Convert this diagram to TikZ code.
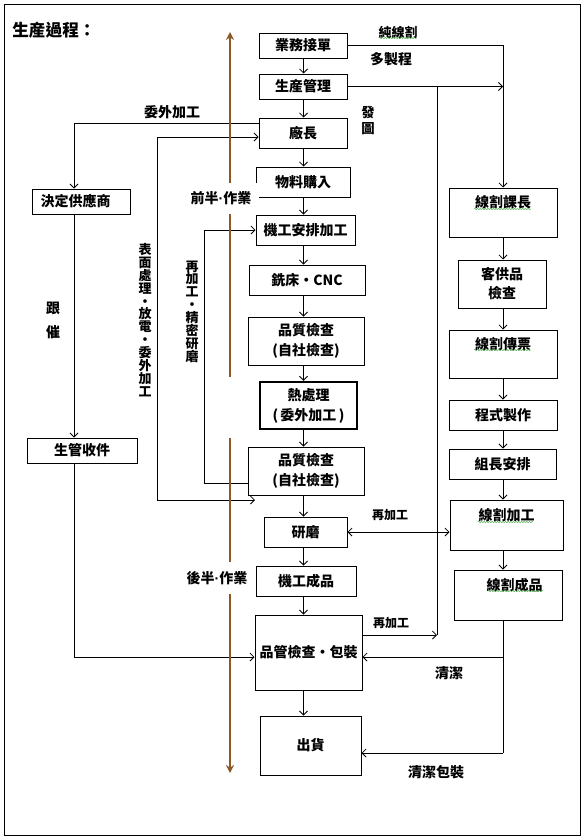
\documentclass[tikz,border=0pt]{standalone}
\usepackage{fontspec}
\setmainfont{Noto Sans CJK TC}
\newfontfamily\latinfont{Liberation Sans}
\newcommand{\ndot}{{\latinfont\bfseries ·}}
\usetikzlibrary{arrows.meta,decorations.pathmorphing}
\definecolor{brn}{RGB}{140,88,40}
\definecolor{spell}{RGB}{70,170,70}
\begin{document}
\begin{tikzpicture}[x=0.75pt,y=-0.75pt,
  box/.style={draw, line width=0.75pt, inner sep=0pt, align=center, font=\bfseries\fontsize{10.5pt}{15pt}\selectfont},
  topbox/.style={box, font=\bfseries\fontsize{10.5pt}{16pt}\selectfont},
  arr/.style={line width=0.6pt, -{Straight Barb[length=3pt,width=6pt]}},
  darr/.style={line width=0.6pt, {Straight Barb[length=3pt,width=6pt]}-{Straight Barb[length=3pt,width=6pt]}},
  ln/.style={line width=0.6pt},
  lbl/.style={font=\bfseries\fontsize{10.5pt}{13pt}\selectfont, inner sep=0pt},
  small/.style={lbl, font=\bfseries\fontsize{9pt}{11pt}\selectfont},
  vert/.style={lbl, align=center, font=\bfseries\fontsize{9.75pt}{9.65pt}\selectfont},
  phase/.style={lbl, fill=white, inner xsep=6pt, minimum height=23pt},
  brownline/.style={draw=brn, line width=1.6pt},
  brownarr/.style={brownline, -{Stealth[length=6pt,width=6pt]}},
  wavy/.style={draw=spell, line width=0.35pt, decorate, decoration={snake, amplitude=0.45pt, segment length=2pt}}
]
\useasboundingbox (0,0) rectangle (584,839);
\draw[line width=0.75pt] (4,4) rectangle (580,835);

% helper coordinates
\coordinate (xm) at (303.5,0);
\coordinate (xR) at (503,0);
\coordinate (xJ) at (437,0);
\coordinate (xL) at (74,0);
\coordinate (x157) at (157,0);
\coordinate (x204) at (204,0);
\coordinate (y123) at (0,123);
\coordinate (y137) at (0,137);
\coordinate (y483) at (0,483);
\coordinate (yRe) at (0,635);
\coordinate (yC1) at (0,657);
\coordinate (yC2) at (0,753);
\coordinate (e500) at (255,500);
\coordinate (bTop) at (230,32);
\coordinate (bMid1) at (230,377);
\coordinate (bMid2) at (230,438);
\coordinate (bBot) at (230,773);

% title
\node[lbl, anchor=west, font=\bfseries\fontsize{12.5pt}{14pt}\selectfont] (title) at (12,30) {生産過程：};

% main column
\node[box, minimum width=66pt, minimum height=18.75pt] (ywjd) at (303,45.5) {業務接單};
\node[box, minimum width=66pt, minimum height=18.75pt] (scgl) at (303,86.5) {生産管理};
\node[box, minimum width=66pt, minimum height=22.5pt] (cz) at (303,133) {廠長};
\node[box, minimum width=70.5pt, minimum height=22.5pt] (wlgr) at (303,182) {物料購入};
\node[box, minimum width=74.25pt, minimum height=22.5pt] (jgap) at (305.5,230) {機工安排加工};
\node[box, minimum width=87pt, minimum height=22.5pt] (xc) at (307,280) {銑床・CNC};
\node[box, minimum width=87pt, minimum height=36pt] (pz1) at (306,341) {品質檢查\\(自社檢查)};
\node[box, line width=1.8pt, minimum width=72.75pt, minimum height=35.25pt] (rcl) at (308.5,405.5) {熱處理\\(\,委外加工\,)};
\node[box, minimum width=87pt, minimum height=36pt] (pz2) at (306,471) {品質檢查\\(自社檢查)};
\node[box, minimum width=62.25pt, minimum height=22.5pt] (ym) at (305.5,532) {研磨};
\node[box, minimum width=75pt, minimum height=22.5pt] (jgcp) at (306,581) {機工成品};
\node[box, minimum width=80.25pt, minimum height=56.25pt] (pg) at (308.5,652.5) {品管檢查・包裝};
\node[box, minimum width=75.75pt, minimum height=44.25pt] (ch) at (310.5,745.5) {出貨};

% right column
\node[topbox, minimum width=81pt, minimum height=36.75pt] (xgkz) at (503,212.5) {線割課長\\\mbox{}};
\node[box, minimum width=66pt, minimum height=36pt, font=\bfseries\fontsize{10.5pt}{14.25pt}\selectfont] (kgp) at (502,284) {客供品\\檢查};
\node[topbox, minimum width=81pt, minimum height=36pt] (xgcp0) at (503,354) {線割傳票\\\mbox{}};
\node[box, minimum width=81pt, minimum height=22.5pt] (cszz) at (503,415) {程式製作};
\node[box, minimum width=80.25pt, minimum height=22.5pt] (zzap) at (502.5,464) {組長安排};
\node[topbox, minimum width=84.75pt, minimum height=37.5pt] (xgjg) at (506.5,525) {線割加工\\\mbox{}};
\node[topbox, minimum width=81pt, minimum height=37.5pt] (xgcp) at (508,595) {\hspace*{10pt}線割成品\\\mbox{}};

% left column
\node[box, minimum width=73.5pt, minimum height=18.75pt] (jdgy) at (81,201.5) {決定供應商\hspace*{8pt}};
\node[box, minimum width=82.5pt, minimum height=18.75pt] (sgsj) at (82,450.5) {生管收件};

% main column arrows
\draw[arr] (ywjd.south -| xm) -- (scgl.north -| xm);
\draw[arr] (scgl.south -| xm) -- (cz.north -| xm);
\draw[arr] (cz.south -| xm) -- (wlgr.north -| xm);
\draw[arr] (wlgr.south -| xm) -- (jgap.north -| xm);
\draw[arr] (jgap.south -| xm) -- (xc.north -| xm);
\draw[arr] (xc.south -| xm) -- (pz1.north -| xm);
\draw[arr] (pz1.south -| xm) -- (rcl.north -| xm);
\draw[arr] (rcl.south -| xm) -- (pz2.north -| xm);
\draw[arr] (pz2.south -| xm) -- (ym.north -| xm);
\draw[arr] (ym.south -| xm) -- (jgcp.north -| xm);
\draw[arr] (jgcp.south -| xm) -- (pg.north -| xm);
\draw[arr] (pg.south -| xm) -- (ch.north -| xm);

% right column arrows
\draw[arr] (ywjd.east) -| (xgkz.north -| xR);
\draw[arr] (scgl.east) -- (scgl.east -| xR);
\coordinate (j1) at (scgl.east -| xJ);
\draw[arr] (xgkz.south -| xR) -- (kgp.north -| xR);
\draw[arr] (kgp.south -| xR) -- (xgcp0.north -| xR);
\draw[arr] (xgcp0.south -| xR) -- (cszz.north -| xR);
\draw[arr] (cszz.south -| xR) -- (zzap.north -| xR);
\draw[arr] (zzap.south -| xR) -- (xgjg.north -| xR);
\draw[arr] (xgjg.south -| xR) -- (xgcp.north -| xR);
\draw[ln] (xgcp.south -| xR) -- (yC2 -| xR);
\draw[arr] (yC1 -| xR) -- (yC1 -| pg.east);
\draw[arr] (yC2 -| xR) -- (yC2 -| ch.east);

% re-processing links
\draw[arr] (pg.east |- yRe) -- (yRe -| xJ);
\draw[ln] (yRe -| xJ) -- (j1);
\draw[darr] (ym.east) -- (ym.east -| xgjg.west);

% left side links
\draw[arr] (cz.west |- y123) -| (jdgy.north -| xL);
\draw[arr] (jdgy.south -| xL) -- (sgsj.north -| xL);
\draw[arr] (sgsj.south -| xL) |- (pg.west |- yC1);
\draw[darr] (e500) -- (e500 -| x157) -- (x157 |- y137) -- (cz.west |- y137);
\draw[arr] (pz2.west |- y483) -- (y483 -| x204) -- (x204 |- jgap.west) -- (jgap.west);

% labels
\node[lbl, font=\bfseries\fontsize{9.75pt}{12pt}\selectfont] (cxg) at (398,32) {純線割};
\node[lbl] (dzc) at (391,59) {多製程};
\node[lbl, align=center, font=\bfseries\fontsize{10pt}{12pt}\selectfont] (ft) at (368,120) {發\\圖};
\node[lbl] (wwjg) at (172,112) {委外加工};
\node[vert] (bmcl) at (145,320) {表\\面\\處\\理\\・\\放\\電\\・\\委\\外\\加\\工};
\node[vert] (zjg) at (192,311.5) {再\\加\\工\\・\\精\\密\\研\\磨};
\node[lbl, align=center, font=\bfseries\fontsize{10.5pt}{18pt}\selectfont] (gc) at (53,320) {跟\\催};
\node[small] (zjg1) at (390,515) {再加工};
\node[small] (zjg2) at (391,623) {再加工};
\node[lbl] (qj) at (449,673) {清潔};
\node[lbl] (qjbz) at (436,772) {清潔包裝};

% spell-check underlines
\draw[wavy] (379,38) -- (417,38);
\draw[wavy] (474,209) -- (531,209);
\draw[wavy] (474,350) -- (531,350);
\draw[wavy] (478,522) -- (533,522);
\draw[wavy] (488,591) -- (543,591);

% phase labels and brown arrows
\node[phase] (qb) at (221,198.5) {前半\ndot 作業};
\node[phase] (hb) at (217,578) {後半\ndot 作業};
\draw[brownline] (bMid1) -- (qb.south -| bMid1);
\draw[brownarr] (qb.north -| bTop) -- (bTop);
\draw[brownline] (bMid2) -- (hb.north -| bMid2);
\draw[brownarr] (hb.south -| bBot) -- (bBot);
\end{tikzpicture}
\end{document}
